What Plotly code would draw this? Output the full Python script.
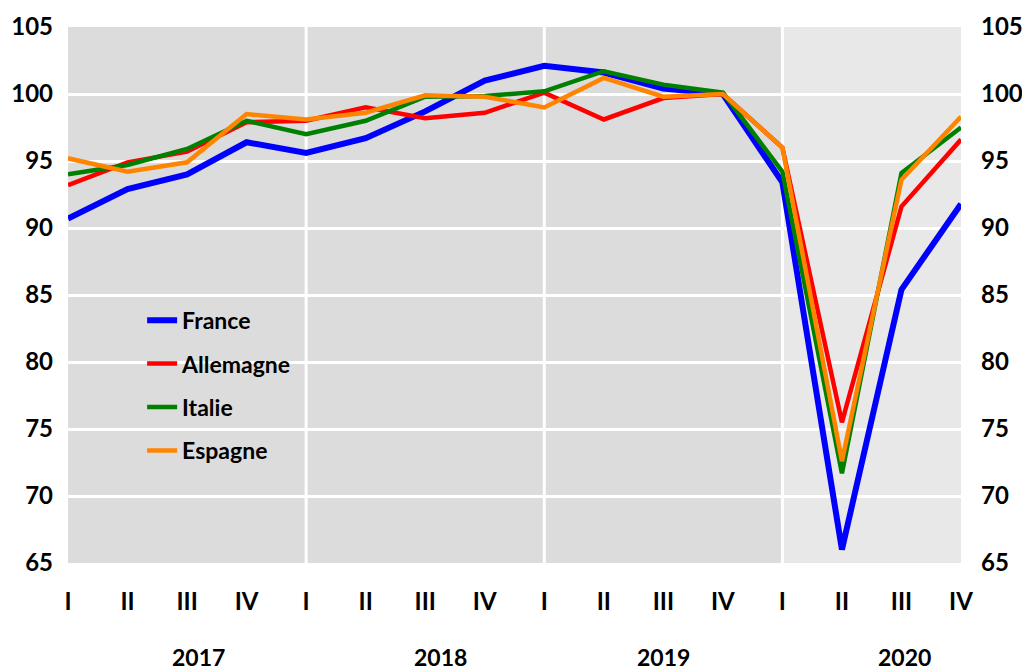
import plotly.graph_objects as go

quarters = ["I", "II", "III", "IV"] * 4
years = ["2017", "2018", "2019", "2020"]
year_pos = [2.2, 6.25, 10.0, 14.05]
x = list(range(16))

france = [90.7, 92.9, 94.0, 96.4, 95.6, 96.7, 98.7, 101.0, 102.1, 101.6, 100.4, 100.0, 93.4, 66.0, 85.4, 91.8]
allemagne = [93.2, 94.9, 95.7, 97.9, 98.0, 99.0, 98.2, 98.6, 100.1, 98.1, 99.7, 100.0, 96.0, 75.5, 91.6, 96.6]
italie = [94.0, 94.7, 95.9, 98.0, 97.0, 98.0, 99.8, 99.85, 100.2, 101.7, 100.7, 100.1, 94.2, 71.7, 94.1, 97.5]
espagne = [95.2, 94.2, 94.9, 98.5, 98.1, 98.6, 99.9, 99.8, 99.0, 101.2, 99.8, 100.0, 96.0, 72.6, 93.6, 98.3]

series = [
    ("France", france, "#0000ff", 6),
    ("Allemagne", allemagne, "#ff0000", 4.5),
    ("Italie", italie, "#008000", 4.5),
    ("Espagne", espagne, "#ff8400", 4.5),
]

FONT = "Lato"
fig = go.Figure()
for i, (name, vals, col, w) in enumerate(series):
    fig.add_trace(go.Scatter(x=x, y=vals, name=name, mode="lines",
                             line=dict(color=col, width=w),
                             legendgroup=f"g{i}"))
# invisible trace for right axis
fig.add_trace(go.Scatter(x=[0], y=[100], yaxis="y2", showlegend=False,
                         mode="markers", marker=dict(opacity=0), hoverinfo="skip"))

shapes = [
    dict(type="rect", xref="x", yref="y", x0=0, x1=12, y0=65, y1=105,
         fillcolor="#dcdcdc", line=dict(width=0), layer="below"),
    dict(type="rect", xref="x", yref="y", x0=12, x1=15, y0=65, y1=105,
         fillcolor="#e8e8e8", line=dict(width=0), layer="below"),
]
for xv in [4, 8, 12]:
    shapes.append(dict(type="line", xref="x", yref="y", x0=xv, x1=xv, y0=65, y1=105,
                       line=dict(color="white", width=3), layer="between"))

annotations = [dict(x=p, y=-0.175, xref="x", yref="paper", text=f"<b>{t}</b>",
                    showarrow=False, font=dict(family=FONT, size=23, color="black"),
                    yanchor="middle")
               for p, t in zip(year_pos, years)]

tickfont = dict(family=FONT, size=24, color="black", weight="bold")
fig.update_layout(
    width=1022, height=662,
    margin=dict(l=60, r=69, t=19, b=107, autoexpand=False),
    paper_bgcolor="white", plot_bgcolor="white",
    shapes=shapes, annotations=annotations,
    showlegend=True,
    legend=dict(x=0.083, y=0.493, xanchor="left", yanchor="top",
                bgcolor="rgba(0,0,0,0)", tracegroupgap=10.5,
                font=dict(family=FONT, size=23, color="black", weight="bold")),
    xaxis=dict(range=[0, 15], tickvals=x, ticktext=quarters, showgrid=False,
               zeroline=False, showline=False, ticks="", tickfont=tickfont,
               ticklabelstandoff=22, automargin=False),
    yaxis=dict(range=[65, 105], tickvals=[65, 70, 75, 80, 85, 90, 95, 100, 105],
               showgrid=True, gridcolor="white", gridwidth=3, zeroline=False,
               ticks="", tickfont=tickfont, ticklabelstandoff=14, automargin=False),
    yaxis2=dict(range=[65, 105], overlaying="y", side="right",
                tickvals=[65, 70, 75, 80, 85, 90, 95, 100, 105], showgrid=False,
                zeroline=False, ticks="", tickfont=tickfont, ticklabelstandoff=19,
                automargin=False),
)
fig.write_html("out.html")
